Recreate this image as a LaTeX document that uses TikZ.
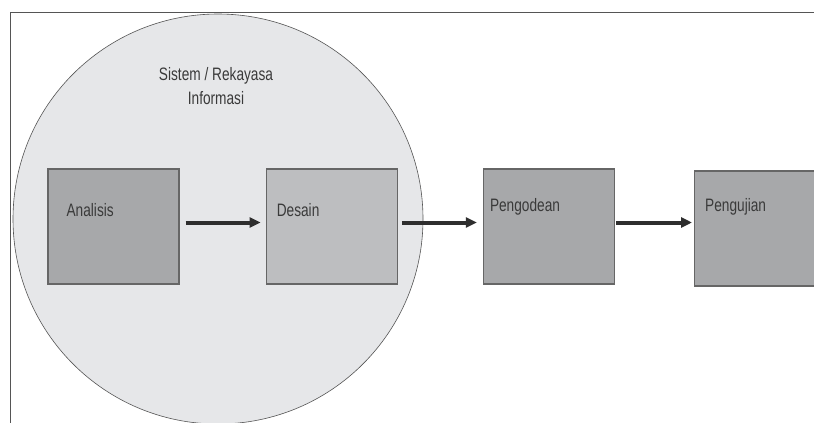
\documentclass[tikz,border=0pt]{standalone}
\usepackage{fontspec}
\setmainfont{Liberation Sans}[FakeStretch=0.76]
\usepackage{xcolor}
\usetikzlibrary{arrows.meta,positioning}

\definecolor{framegray}{HTML}{555555}
\definecolor{circfill}{HTML}{E6E7E9}
\definecolor{darkbox}{HTML}{A7A8AA}
\definecolor{lightbox}{HTML}{BDBEC0}
\definecolor{edgegray}{HTML}{666666}
\definecolor{txtgray}{HTML}{3A3A3A}
\definecolor{arrowgray}{HTML}{2E2E2E}

\tikzset{
  stepbox/.style={draw=edgegray, line width=1.2pt, minimum width=131pt, minimum height=115pt, inner sep=0pt},
  lbl/.style={text=txtgray, font=\fontsize{18}{24}\selectfont, inner sep=0pt},
  flow/.style={draw=arrowgray, line width=4pt, -{Triangle[length=11pt,width=10pt]}}
}

\begin{document}
\begin{tikzpicture}[x=1pt, y=-1pt, node distance=85pt]
    \clip (0,0) rectangle (814,423);
    \fill[white] (0,0) rectangle (814,423);

    % Frame
    \draw[framegray, line width=1pt] (10,430) -- (10,12) -- (820,12);

    % System / information engineering
    \node[draw=framegray, circle, fill=circfill, minimum size=410pt, line width=0.6pt] (sys) at (218,219) {};
    \node[lbl, align=center] (systxt) at (216,86) {Sistem / Rekayasa\\Informasi};

    % Steps
    \node[stepbox, fill=darkbox] (ana) at (113.5,226.5) {};
    \node[stepbox, fill=lightbox, right=86pt of ana] (des) {};
    \node[stepbox, fill=darkbox, right=85pt of des] (kod) {};
    \node[stepbox, fill=darkbox, right=79pt of kod, yshift=-2pt] (uji) {};

    \node[lbl, anchor=west] (anatxt) at ([xshift=19pt,yshift=-42pt]ana.north west) {Analisis};
    \node[lbl, anchor=west] (destxt) at ([xshift=11pt,yshift=-42pt]des.north west) {Desain};
    \node[lbl, anchor=west] (kodtxt) at ([xshift=7pt,yshift=-38pt]kod.north west) {Pengodean};
    \node[lbl, anchor=west] (ujitxt) at ([xshift=11pt,yshift=-36pt]uji.north west) {Pengujian};

    % Flow
    \draw[flow, shorten <=6pt, shorten >=5pt] ([yshift=4pt]ana.east) -- ([yshift=4pt]des.west);
    \draw[flow, shorten <=4pt, shorten >=6pt] ([yshift=4pt]des.east) -- ([yshift=4pt]kod.west);
    \draw[flow, shorten <=1pt, shorten >=2pt] ([yshift=4pt]kod.east) -- ([yshift=6pt]uji.west);
\end{tikzpicture}
\end{document}
